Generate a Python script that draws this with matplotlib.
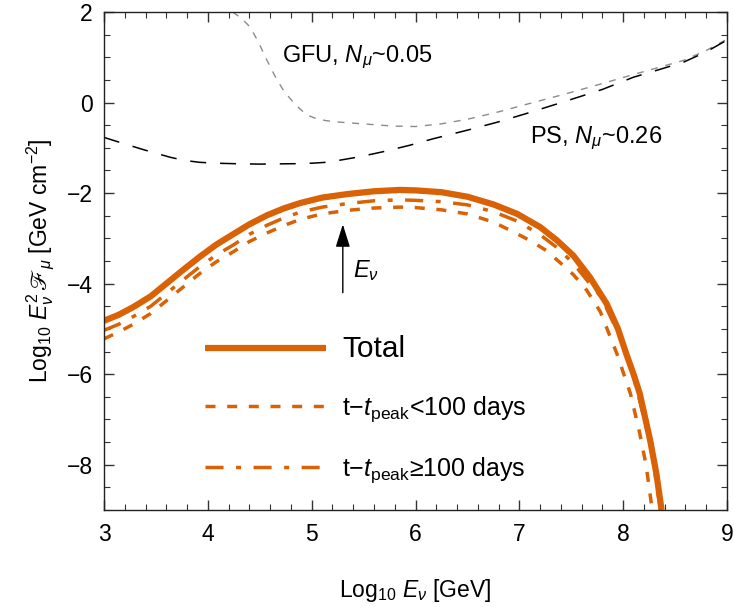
import numpy as np
import matplotlib
matplotlib.use('Agg')
import matplotlib.pyplot as plt
from matplotlib.ticker import MultipleLocator

plt.rcParams['font.family'] = ['Liberation Sans', 'DejaVu Sans']
plt.rcParams['mathtext.fontset'] = 'custom'
plt.rcParams['mathtext.rm'] = 'Liberation Sans'
plt.rcParams['mathtext.it'] = 'Liberation Sans:italic'
plt.rcParams['mathtext.bf'] = 'Liberation Sans:bold'
plt.rcParams['mathtext.fallback'] = 'stix'
plt.rcParams['lines.scale_dashes'] = False

#curves (log10 E [GeV], log10 E^2 F [GeV cm^-2])
x_total = [3.0, 3.14, 3.28, 3.45, 3.6, 3.76, 3.92, 4.08, 4.25, 4.4, 4.57, 4.73, 4.89, 5.1, 5.35, 5.6, 5.85, 6.0, 6.25,
           6.5, 6.75, 6.98, 7.2, 7.36, 7.52, 7.68, 7.84, 7.95, 8.03, 8.1, 8.16, 8.26, 8.32, 8.37]
y_total = [-4.82, -4.69, -4.52, -4.28, -4.0, -3.7, -3.41, -3.14, -2.9, -2.69, -2.49, -2.34, -2.22, -2.1, -2.02, -1.96, -1.93,
           -1.94, -1.98, -2.08, -2.25, -2.46, -2.75, -3.04, -3.38, -3.86, -4.44, -5.0, -5.55, -6.0, -6.43, -7.46, -8.2, -9.0]

x_early = [3.0, 3.14, 3.28, 3.45, 3.6, 3.76, 3.92, 4.08, 4.25, 4.4, 4.57, 4.73, 4.89, 5.1, 5.35, 5.6, 5.85, 6.0, 6.25,
           6.5, 6.75, 6.98, 7.12, 7.26, 7.39, 7.52, 7.65, 7.78, 7.94, 8.07, 8.16, 8.22, 8.28]
y_early = [-5.22, -5.07, -4.9, -4.66, -4.38, -4.08, -3.78, -3.52, -3.29, -3.07, -2.88, -2.72, -2.58, -2.46, -2.38, -2.33,
           -2.31, -2.32, -2.37, -2.46, -2.64, -2.9, -3.07, -3.27, -3.53, -3.8, -4.15, -4.62, -5.55, -6.43, -7.31, -8.0, -9.0]

x_late = [3.0, 3.14, 3.28, 3.45, 3.6, 3.76, 3.92, 4.08, 4.25, 4.4, 4.57, 4.73, 4.89, 5.1, 5.35, 5.6, 5.85, 6.0, 6.25,
          6.5, 6.75, 6.98, 7.2, 7.36, 7.52, 7.66, 7.79, 7.95, 8.1, 8.26, 8.36]
y_late = [-5.03, -4.9, -4.73, -4.5, -4.22, -3.92, -3.63, -3.37, -3.14, -2.91, -2.71, -2.55, -2.42, -2.31, -2.23, -2.17,
          -2.15, -2.16, -2.19, -2.26, -2.41, -2.62, -2.92, -3.2, -3.55, -3.95, -4.3, -5.08, -6.05, -7.5, -9.0]

x_ps = [3.0, 3.18, 3.35, 3.5, 3.64, 3.78, 3.92, 4.08, 4.25, 4.5, 4.86, 5.0, 5.14, 5.28, 5.43, 5.58, 5.72, 5.95, 6.17,
        6.5, 6.81, 7.1, 7.46, 7.8, 8.1, 8.35, 8.58, 8.8, 9.0]
y_ps = [-0.77, -0.9, -1.02, -1.12, -1.21, -1.28, -1.32, -1.34, -1.35, -1.36, -1.35, -1.34, -1.32, -1.27, -1.21,
        -1.14, -1.07, -0.94, -0.8, -0.61, -0.42, -0.22, 0.04, 0.29, 0.56, 0.73, 0.89, 1.12, 1.38]

x_gfu = [4.24, 4.33, 4.41, 4.49, 4.57, 4.65, 4.73, 4.84, 4.95, 5.05, 5.14, 5.25, 5.37, 5.55, 5.78, 6.0, 6.25, 6.5,
         6.81, 7.1, 7.46, 7.8, 8.1, 8.35, 8.58, 8.8, 9.0]
y_gfu = [2.0, 1.85, 1.66, 1.32, 0.93, 0.57, 0.26, -0.04, -0.27, -0.36, -0.4, -0.43, -0.45, -0.48, -0.52, -0.53,
         -0.47, -0.37, -0.2, -0.02, 0.2, 0.42, 0.62, 0.78, 0.93, 1.15, 1.4]

arrow_x = 5.3
arrow_y = [-4.2, -2.69]

orange = '#d96106'

fig = plt.figure(figsize=(7.34, 6.07), dpi=100)
ax = fig.add_axes([104/734, 1-510/607, 623/734, 498/607])

ax.plot(x_gfu, y_gfu, color='#8c8c8c', lw=1.0, dashes=(5, 5.5))
ax.plot(x_ps, y_ps, color='black', lw=1.1, dashes=(11.5, 10))
ax.plot(x_late, y_late, color=orange, lw=2.5, dashes=(13, 9, 3.6, 9), label='t$-t_{\\rm peak}$≥100 days')
ax.plot(x_early, y_early, color=orange, lw=2.5, dashes=(7.2, 8.4), label='t$-t_{\\rm peak}$<100 days')
ax.plot(x_total, y_total, color=orange, lw=4.5, solid_capstyle='butt', solid_joinstyle='round', label='Total')

ax.annotate('', xy=(arrow_x, arrow_y[1]), xytext=(arrow_x, arrow_y[0]),
            arrowprops=dict(arrowstyle='-|>,head_length=0.7,head_width=0.22', color='black', lw=1.0,
                            mutation_scale=20, shrinkA=0, shrinkB=0))
ax.text(5.4, -3.7, '$E_{\\nu}$', fontsize=17, va='center', ha='left')
ax.text(4.71, 1.0, 'GFU, $N_{\\mu}$~0.05', fontsize=17, va='center', ha='left')
ax.text(7.1, -0.78, 'PS, $N_{\\mu}$~0.26', fontsize=17, va='center', ha='left')

h, l = ax.get_legend_handles_labels()
order = [2, 1, 0]
leg = ax.legend([h[i] for i in order], [l[i] for i in order], loc='center left', bbox_to_anchor=(0.162, 0.201),
                frameon=False, fontsize=18, handlelength=4.84, handletextpad=0.64, labelspacing=1.25,
                borderpad=0, borderaxespad=0)
leg.get_texts()[0].set_fontsize(21.5)

ax.set_xlim(3, 9)
ax.set_ylim(-9, 2)
ax.xaxis.set_major_locator(MultipleLocator(1))
ax.xaxis.set_minor_locator(MultipleLocator(0.2))
ax.yaxis.set_major_locator(MultipleLocator(2))
ax.yaxis.set_minor_locator(MultipleLocator(0.5))
ax.tick_params(axis='both', which='major', direction='in', top=True, right=True, bottom=True, left=True,
               length=7, width=1.0, color='#333333', labelsize=16.5)
ax.tick_params(axis='both', which='minor', direction='in', top=True, right=True, bottom=True, left=True,
               length=4, width=0.8, color='#333333')
ax.tick_params(axis='x', which='major', pad=9.5)
ax.tick_params(axis='y', which='major', pad=8)
for s in ax.spines.values():
    s.set_linewidth(1.0)
    s.set_color('#222222')

ax.set_xlabel('Log$_{10}$ $E_{\\nu}$ [GeV]', fontsize=16.5, labelpad=22.5)
ax.set_ylabel('Log$_{10}$ $E_{\\nu}^{2}\\,ℱ_{\\mu}$ [GeV cm$^{-2}$]', fontsize=16.5, labelpad=8)

fig.savefig('out.png', dpi=100)
